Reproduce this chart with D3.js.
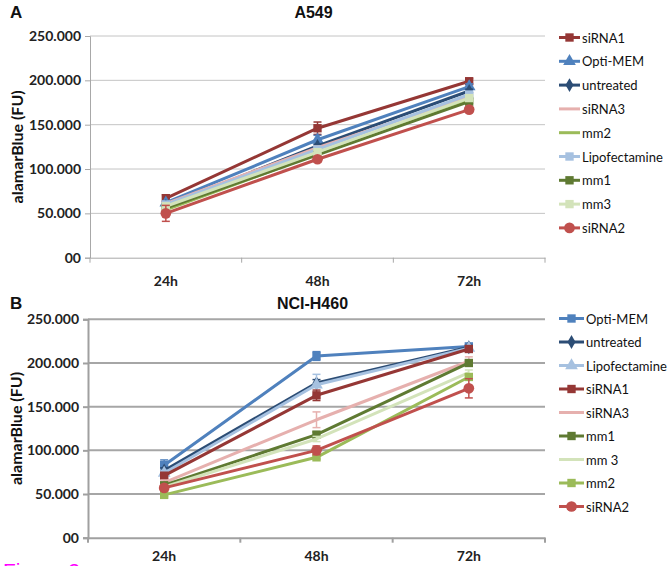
<!DOCTYPE html>
<html><head><meta charset="utf-8">
<script src="https://cdn.jsdelivr.net/npm/d3@7"></script>
<style>body{margin:0;background:#fff}svg{display:block}</style></head>
<body><svg id="c" width="668" height="566"></svg>
<script>
// ---- data ----
const categories = ["24h", "48h", "72h"];
const yTicks = [0, 50, 100, 150, 200, 250];
const yTickLabels = ["00", "50.000", "100.000", "150.000", "200.000", "250.000"];

const a549Names = ["siRNA1", "Opti-MEM", "untreated", "siRNA3", "mm2", "Lipofectamine", "mm1", "mm3", "siRNA2"];
const a549Values = [
  [67, 146, 199],
  [62, 133, 193],
  [58, 126, 188],
  [61, 124, 182],
  [54, 117, 178],
  [60, 122, 184],
  [56, 116, 176],
  [58, 119, 180],
  [50, 111, 167]
];
const a549Errors = [
  [4, 7, 3],
  [2, 5, 3],
  [2, 2, 2],
  [2, 2, 2],
  [2, 2, 2],
  [2, 3, 2],
  [2, 2, 2],
  [2, 2, 2],
  [9, 3, 2]
];

const h460Names = ["Opti-MEM", "untreated", "Lipofectamine", "siRNA1", "siRNA3", "mm1", "mm 3", "mm2", "siRNA2"];
const h460Values = [
  [83, 208, 219],
  [77, 177, 218],
  [74, 175, 217],
  [71, 163, 216],
  [63, 135, 202],
  [60, 118, 200],
  [58, 113, 189],
  [49, 92, 184],
  [57, 100, 171]
];
const h460Errors = [
  [6, 5, 2],
  [3, 4, 2],
  [3, 12, 2],
  [3, 6, 3],
  [3, 9, 5],
  [2, 3, 3],
  [2, 3, 3],
  [2, 2, 3],
  [3, 5, 11]
];

// ---- styles ----
const styleA = {
  "siRNA1": {c: "#953735", m: "square"},
  "Opti-MEM": {c: "#4F81BD", m: "triangle"},
  "untreated": {c: "#2C4D75", m: "diamond"},
  "siRNA3": {c: "#E6B0AE", m: null},
  "mm2": {c: "#9BBB59", m: null},
  "Lipofectamine": {c: "#A6C1E0", m: "square"},
  "mm1": {c: "#5F7A32", m: "square"},
  "mm3": {c: "#D3E3BA", m: "square"},
  "siRNA2": {c: "#C0504D", m: "circle"}
};
const styleB = {
  "Opti-MEM": {c: "#4F81BD", m: "square"},
  "untreated": {c: "#2C4D75", m: "diamond"},
  "Lipofectamine": {c: "#A6C1E0", m: "triangle"},
  "siRNA1": {c: "#953735", m: "square"},
  "siRNA3": {c: "#E6B0AE", m: null},
  "mm1": {c: "#5F7A32", m: "square"},
  "mm 3": {c: "#D3E3BA", m: null},
  "mm2": {c: "#9BBB59", m: "square"},
  "siRNA2": {c: "#C0504D", m: "circle"}
};
const symTypes = {
  square: [d3.symbolSquare, 70],
  triangle: [d3.symbolTriangle, 70],
  diamond: [d3.symbolDiamond, 55],
  circle: [d3.symbolCircle, 90]
};

const svg = d3.select("#c");
const FONT = "Lato, 'Open Sans', sans-serif";

function panel(cfg) {
  const g = svg.append("g");
  const x = d3.scaleBand().domain(categories).range([cfg.x0, cfg.x1]);
  const y = d3.scaleLinear().domain([0, 250]).range([cfg.yb, cfg.yt]);

  // gridlines
  g.append("g").selectAll("line").data(yTicks.slice(1)).join("line")
    .attr("x1", cfg.x0).attr("x2", cfg.x1)
    .attr("y1", d => y(d)).attr("y2", d => y(d))
    .attr("stroke", cfg.grid).attr("stroke-width", cfg.gridW);

  // y axis
  const ya = d3.axisLeft(y).tickValues(yTicks).tickFormat((d, i) => yTickLabels[i]).tickSizeOuter(0).tickSize(5).tickPadding(4);
  const yg = g.append("g").attr("transform", `translate(${cfg.x0},0)`).call(ya);
  yg.select(".domain").attr("stroke", cfg.axis).attr("stroke-width", cfg.axisW);
  yg.selectAll(".tick line").attr("stroke", cfg.axis).attr("stroke-width", cfg.axisW);
  yg.selectAll("text").attr("font-family", FONT).attr("font-size", 14).attr("font-weight", 700).attr("fill", "#222");

  // x axis
  const xa = d3.axisBottom(x).tickSize(0).tickSizeOuter(0).tickPadding(cfg.xPad);
  const xg = g.append("g").attr("transform", `translate(0,${cfg.yb})`).call(xa);
  xg.select(".domain").attr("stroke", cfg.axis).attr("stroke-width", cfg.axisW);
  xg.selectAll("text").attr("font-family", FONT).attr("font-size", 14).attr("font-weight", 700).attr("fill", "#222");
  const bounds = categories.map(c => x(c) + x.bandwidth()).concat([x(categories[0])]);
  xg.append("g").selectAll("line").data(bounds).join("line")
    .attr("x1", d => d).attr("x2", d => d).attr("y1", 0).attr("y2", 5)
    .attr("stroke", cfg.axis).attr("stroke-width", cfg.axisW);

  // y title
  g.append("text").attr("transform", `translate(${cfg.ytx},${(cfg.yt + cfg.yb) / 2}) rotate(-90)`)
    .attr("text-anchor", "middle").attr("dominant-baseline", "central")
    .attr("font-family", FONT).attr("font-size", 16).attr("font-weight", 700).attr("fill", "#111")
    .text("alamarBlue (FU)");
  // title
  g.append("text").attr("x", (cfg.x0 + cfg.x1) / 2 - 4).attr("y", cfg.titleY)
    .attr("text-anchor", "middle").attr("font-family", "'Liberation Sans', Arial, sans-serif")
    .attr("font-size", 16).attr("font-weight", 700).attr("fill", "#111").text(cfg.title);
  g.append("text").attr("x", 10).attr("y", cfg.titleY)
    .attr("font-family", "'Liberation Sans', Arial, sans-serif")
    .attr("font-size", 17).attr("font-weight", 700).attr("fill", "#111").text(cfg.letter);

  const cx = c => x(c) + x.bandwidth() / 2;
  const line = d3.line().x((d, i) => cx(categories[i])).y(d => y(d));

  cfg.names.forEach((n, si) => {
    const st = cfg.style[n];
    const vals = cfg.values[si];
    const errs = cfg.errors[si];
    const sg = g.append("g");
    sg.append("path").attr("d", line(vals)).attr("fill", "none")
      .attr("stroke", st.c).attr("stroke-width", 3).attr("stroke-linejoin", "round");
    vals.forEach((v, i) => {
      const px = cx(categories[i]);
      const e = errs[i];
      sg.append("line").attr("x1", px).attr("x2", px).attr("y1", y(v - e)).attr("y2", y(v + e))
        .attr("stroke", st.c).attr("stroke-width", 1.5);
      [v - e, v + e].forEach(b => sg.append("line").attr("x1", px - 4).attr("x2", px + 4)
        .attr("y1", y(b)).attr("y2", y(b)).attr("stroke", st.c).attr("stroke-width", 1.5));
      if (st.m) {
        const [t, s] = symTypes[st.m];
        sg.append("path").attr("d", d3.symbol(t, s)()).attr("transform", `translate(${px},${y(v)})`)
          .attr("fill", st.c);
      }
    });
  });

  // legend
  const lg = g.append("g");
  cfg.names.forEach((n, i) => {
    const st = cfg.style[n];
    const ly = cfg.legY + i * cfg.legStep;
    lg.append("line").attr("x1", 559).attr("x2", cfg.legTx - 2).attr("y1", ly).attr("y2", ly)
      .attr("stroke", st.c).attr("stroke-width", 3);
    if (st.m) {
      const [t, s] = symTypes[st.m];
      lg.append("path").attr("d", d3.symbol(t, s)()).attr("transform", `translate(${(559 + cfg.legTx - 2) / 2},${ly})`).attr("fill", st.c);
    }
    lg.append("text").attr("x", cfg.legTx).attr("y", ly).attr("dominant-baseline", "central")
      .attr("font-family", FONT).attr("font-size", 13).attr("fill", "#111").text(n);
  });
}

panel({
  x0: 90, x1: 545, yb: 257.7, yt: 36, ytx: 16, title: "A549", letter: "A", titleY: 18,
  grid: "#c4c4c4", gridW: 1, axis: "#a8a8a8", axisW: 1, xPad: 18,
  names: a549Names, values: a549Values, errors: a549Errors, style: styleA,
  legY: 37.5, legStep: 23.8, legTx: 582
});
panel({
  x0: 88, x1: 545, yb: 537.7, yt: 319.3, ytx: 15, title: "NCI-H460", letter: "B", titleY: 309,
  grid: "#a6a6a6", gridW: 2, axis: "#a0a0a0", axisW: 2, xPad: 13,
  names: h460Names, values: h460Values, errors: h460Errors, style: styleB,
  legY: 318.5, legStep: 23.5, legTx: 586
});

svg.append("text").attr("x", 3).attr("y", 578).attr("font-family", "'Liberation Sans', Arial, sans-serif")
  .attr("font-size", 21).attr("fill", "#FF00FF").text("Figure 2");
</script>
</body></html>
